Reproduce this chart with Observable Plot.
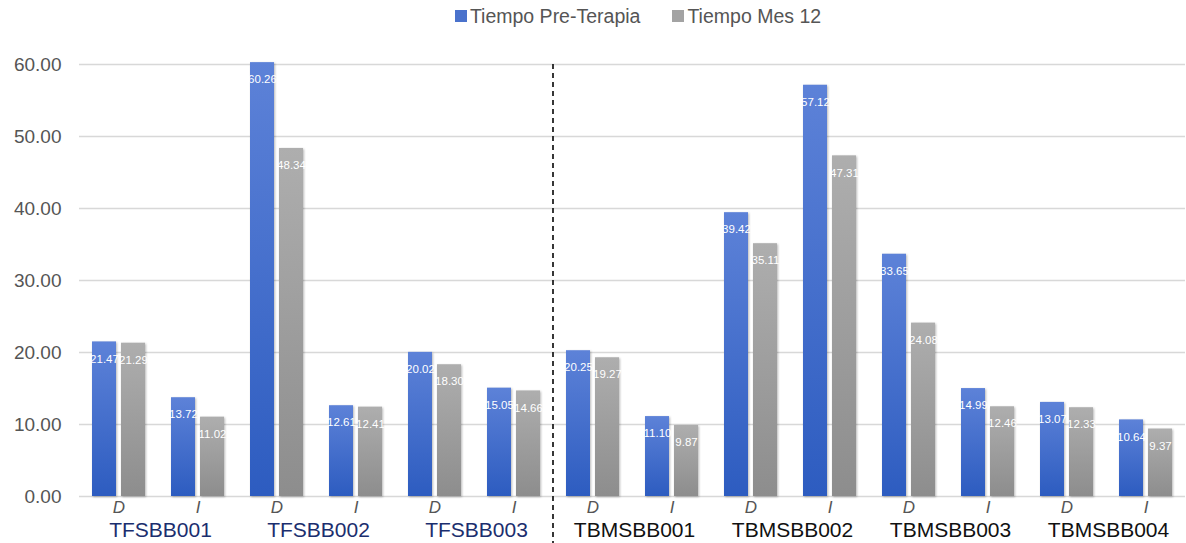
<!DOCTYPE html>
<html>
<head>
<meta charset="utf-8">
<script src="https://cdn.jsdelivr.net/npm/d3@7"></script>
<script src="https://cdn.jsdelivr.net/npm/@observablehq/plot@0.6"></script>
<style>
  html, body { margin: 0; padding: 0; background: #fff; overflow: hidden; }
  body { width: 1186px; height: 543px; font-family: "Liberation Sans", Arial, sans-serif; }
  #legend { height: 32px; display: flex; justify-content: center; align-items: center; gap: 32px; font-size: 19.5px; color: #555; padding-left: 90px; box-sizing: border-box; }
  #legend .item { display: flex; align-items: center; gap: 3px; }
  #legend .sw { width: 12px; height: 12px; display: inline-block; }
  #chart svg { display: block; overflow: visible; }
  g[aria-label="bar"] rect { filter: drop-shadow(1px 1px 1px rgba(0,0,0,0.28)); }
</style>
</head>
<body>
<svg width="0" height="0" style="position:absolute">
  <defs>
    <linearGradient id="gBlue" x1="0" y1="0" x2="0" y2="1">
      <stop offset="0" stop-color="#5d82d8"/>
      <stop offset="1" stop-color="#2d5cc0"/>
    </linearGradient>
    <linearGradient id="gGray" x1="0" y1="0" x2="0" y2="1">
      <stop offset="0" stop-color="#aeaeae"/>
      <stop offset="1" stop-color="#8d8d8d"/>
    </linearGradient>
  </defs>
</svg>
<div id="legend"></div>
<div id="chart"></div>
<script>
const subjects = ["TFSBB001", "TFSBB002", "TFSBB003", "TBMSBB001", "TBMSBB002", "TBMSBB003", "TBMSBB004"];
const sides = ["D", "I"];
const series = ["Tiempo Pre-Terapia", "Tiempo Mes 12"];
const preTerapia = [21.47, 13.72, 60.26, 12.61, 20.02, 15.05, 20.25, 11.10, 39.42, 57.12, 33.65, 14.99, 13.07, 10.64];
const mes12 = [21.29, 11.02, 48.34, 12.41, 18.30, 14.66, 19.27, 9.87, 35.11, 47.31, 24.08, 12.46, 12.33, 9.37];
const yTicks = [0, 10, 20, 30, 40, 50, 60];
const seriesFill = ["url(#gBlue)", "url(#gGray)"];
const legendColors = ["#4a72cc", "#a3a3a3"];

const keys = [];
const groups = [];
subjects.forEach(s => sides.forEach(side => { keys.push(s + "|" + side); groups.push({subject: s, side}); }));

const rows = [];
keys.forEach((k, i) => {
  rows.push({key: k, series: series[0], value: preTerapia[i]});
  rows.push({key: k, series: series[1], value: mes12[i]});
});
const sideRows = keys.map((k, i) => ({key: k, side: groups[i].side}));
const subjRows = subjects.map(s => ({key: s + "|D", subject: s}));

// legend
const leg = document.getElementById("legend");
series.forEach((s, i) => {
  const it = document.createElement("div");
  it.className = "item";
  it.innerHTML = `<span class="sw" style="background:${legendColors[i]}"></span><span>${s}</span>`;
  leg.appendChild(it);
});

const plot = Plot.plot({
  width: 1186,
  height: 511,
  marginLeft: 78,
  marginRight: 0,
  marginTop: 32,
  marginBottom: 47,
  style: {fontFamily: "Liberation Sans, Arial, sans-serif", background: "transparent"},
  fx: {domain: keys, padding: 0, axis: null},
  x: {domain: series, paddingInner: 5 / 30, paddingOuter: 0.402, axis: null},
  y: {domain: [0, 60], axis: null},
  marks: [
    Plot.ruleY(yTicks, {stroke: "#d8d8d8", strokeWidth: 1.5}),
    Plot.axisY(yTicks, {label: null, tickFormat: d3.format(".2f"), tickSize: 0, tickPadding: 18, fontSize: 19, fill: "#555", facetAnchor: "left"}),
    Plot.barY(rows.filter(d => d.series === series[0]), {fx: "key", x: "series", y: "value", fill: seriesFill[0]}),
    Plot.barY(rows.filter(d => d.series === series[1]), {fx: "key", x: "series", y: "value", fill: seriesFill[1]}),
    Plot.text(rows, {fx: "key", x: "series", y: "value", text: d => d.value.toFixed(2), fill: "white", fontSize: 11.5, dy: 17}),
    Plot.text(sideRows, {fx: "key", text: "side", frameAnchor: "bottom", lineAnchor: "middle", dy: 11, fontSize: 17, fontStyle: "italic", fill: "#555"}),
    Plot.text(subjRows.filter(d => d.subject.startsWith("TFS")), {fx: "key", text: "subject", frameAnchor: "bottom-right", textAnchor: "middle", lineAnchor: "middle", dx: 2, dy: 34, fontSize: 21, fill: "#1b2e6e"}),
    Plot.text(subjRows.filter(d => d.subject.startsWith("TBM")), {fx: "key", text: "subject", frameAnchor: "bottom-right", textAnchor: "middle", lineAnchor: "middle", dx: 2, dy: 34, fontSize: 21, fill: "#111"})
  ]
});
document.getElementById("chart").appendChild(plot);

// dashed separator between the TFSBB and TBMSBB groups, positioned via Plot's scales
const fx = plot.scale("fx");
const y = plot.scale("y");
const sepX = fx.apply("TFSBB003|I") + fx.bandwidth;
d3.select(plot).append("line")
  .attr("x1", sepX).attr("x2", sepX)
  .attr("y1", y.apply(60)).attr("y2", 511)
  .attr("stroke", "#222").attr("stroke-width", 1.8).attr("stroke-dasharray", "5,4");
</script>
</body>
</html>
